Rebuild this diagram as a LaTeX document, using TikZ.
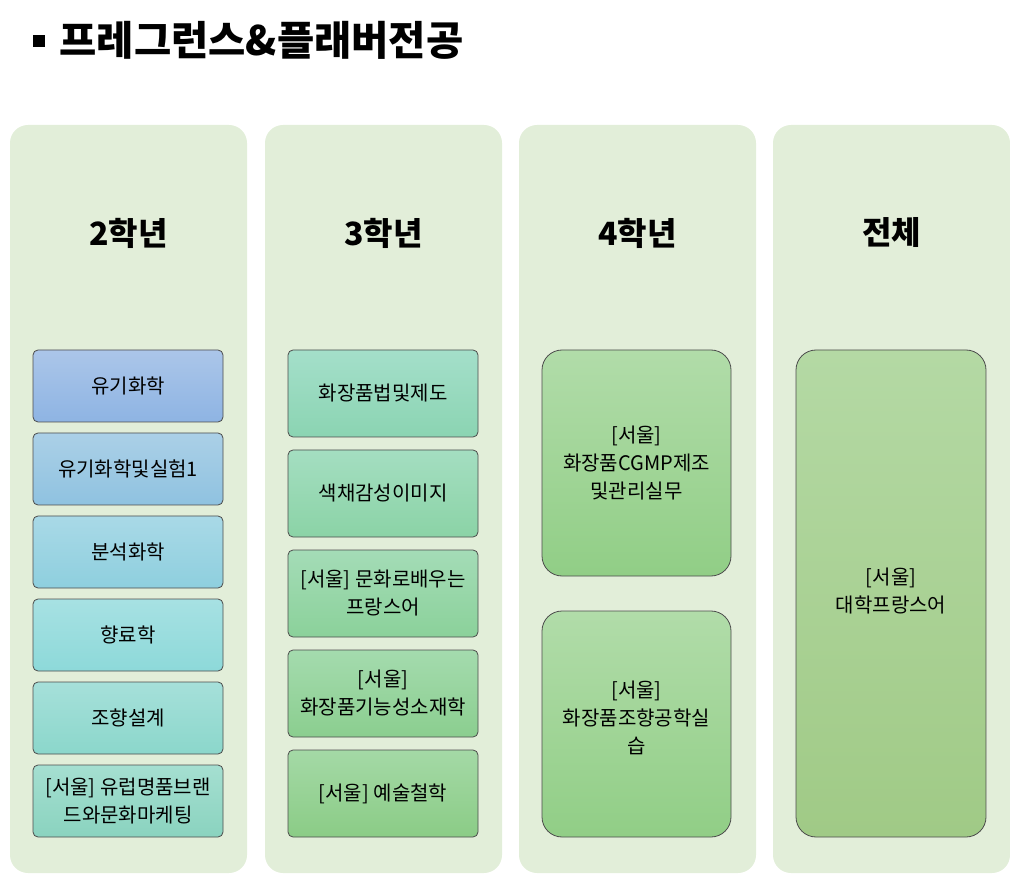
\documentclass[tikz,border=0pt]{standalone}
\usepackage{fontspec}
\setmainfont{Noto Sans CJK KR}
\begin{document}
\begin{tikzpicture}[x=1pt,y=-1pt,
 col/.style={fill=colbg,rounded corners=18pt},
 hdr/.style={font=\fontsize{32}{36}\selectfont\bfseries},
 box/.style={draw=black!70,line width=0.8pt,rounded corners=5pt},
 lbl/.style={align=center,font=\fontsize{20}{28}\selectfont},
]
\definecolor{colbg}{HTML}{E2EED9}
\useasboundingbox (0,0) rectangle (1010,874);
\fill[black] (33,35) rectangle (45,47);
\node[anchor=west,font=\fontsize{40.5}{46}\selectfont\bfseries] (title) at (56,40) {프레그런스\&플래버전공};
\foreach \x/\t [count=\i] in {10/2학년,265/3학년,519/4학년,773/전체}{
 \fill[col] (\x,125) rectangle +(237,748);
 \node[hdr] (h\i) at (\x+118.5,233) {\t};
}
\newcommand\bx[8]{\shade[box,top color=#6,bottom color=#7] (#1,#2) rectangle (#3,#4);
 \node[lbl] (#8) at ({(#1+#3)/2},{(#2+#4)/2}) {#5};}
\definecolor{a1}{HTML}{ABC6E9}\definecolor{b1}{HTML}{8EB4E3}
\definecolor{a2}{HTML}{ABD0E7}\definecolor{b2}{HTML}{8FC2E0}
\definecolor{a3}{HTML}{A9D9E7}\definecolor{b3}{HTML}{8ECFDE}
\definecolor{a4}{HTML}{A7E1E3}\definecolor{b4}{HTML}{8DD9D9}
\definecolor{a5}{HTML}{A6E0DA}\definecolor{b5}{HTML}{8BD7CB}
\definecolor{a6}{HTML}{A5DFD1}\definecolor{b6}{HTML}{8AD3BF}
\bx{33}{350}{223}{422}{유기화학}{a1}{b1}{c1}
\bx{33}{433}{223}{505}{유기화학및실험1}{a2}{b2}{c2}
\bx{33}{516}{223}{588}{분석화학}{a3}{b3}{c3}
\bx{33}{599}{223}{671}{향료학}{a4}{b4}{c4}
\bx{33}{682}{223}{754}{조향설계}{a5}{b5}{c5}
\bx{33}{765}{223}{837}{[서울] 유럽명품브랜\\드와문화마케팅}{a6}{b6}{c6}
\definecolor{d1}{HTML}{A4DFCA}\definecolor{e1}{HTML}{8BD4B2}
\definecolor{d2}{HTML}{A4DEC1}\definecolor{e2}{HTML}{8BD3A6}
\definecolor{d3}{HTML}{A4DCB7}\definecolor{e3}{HTML}{8BD19A}
\definecolor{d4}{HTML}{A4DBAE}\definecolor{e4}{HTML}{8BCE8F}
\definecolor{d5}{HTML}{A4D9A6}\definecolor{e5}{HTML}{8BCC86}
\bx{288}{350}{478}{437}{화장품법및제도}{d1}{e1}{m1}
\bx{288}{450}{478}{537}{색채감성이미지}{d2}{e2}{m2}
\bx{288}{550}{478}{637}{[서울] 문화로배우는\\프랑스어}{d3}{e3}{m3}
\bx{288}{650}{478}{737}{[서울]\\화장품기능성소재학}{d4}{e4}{m4}
\bx{288}{750}{478}{837}{[서울] 예술철학}{d5}{e5}{m5}
\definecolor{f1}{HTML}{B1DCA9}\definecolor{g1}{HTML}{91CE86}
\definecolor{p1}{HTML}{B4D9A4}\definecolor{q1}{HTML}{A0CA86}
\begin{scope}[box/.append style={rounded corners=20pt}]
\shade[box,top color=f1,bottom color=g1] (542,350) rectangle (731,576);
\shade[box,top color=f1,bottom color=g1] (542,611) rectangle (731,837);
\shade[box,top color=p1,bottom color=q1] (796,350) rectangle (986,837);
\end{scope}
\node[lbl] (n1) at (636.5,463) {[서울]\\화장품CGMP제조\\및관리실무};
\node[lbl] (n2) at (636.5,718) {[서울]\\화장품조향공학실\\습};
\node[lbl] (n3) at (891,591) {[서울]\\대학프랑스어};
\end{tikzpicture}
\end{document}
